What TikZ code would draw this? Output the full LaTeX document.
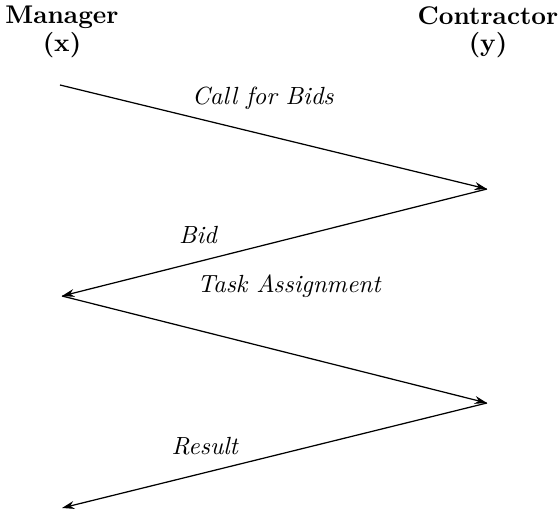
\documentclass[tikz,border=0pt]{standalone}
\usepackage{tikz}
\usetikzlibrary{arrows.meta,positioning}
\tikzset{>={Stealth[length=5pt,width=3.2pt]},shorten >=0pt}
\tikzset{party/.style={align=center,font=\bfseries\fontsize{10.3}{11}\selectfont,inner sep=0pt}}
\tikzset{msg/.style={font=\itshape}}

\begin{document}
\begin{tikzpicture}[x=0.403pt,y=-0.403pt,line width=0.5pt]
                \useasboundingbox (0,0) rectangle (559,510);
                \node[party] (mgr) at (62,32)  {Manager\\(x)};
                \node[party] (con) at (488,32) {Contractor\\(y)};
                \coordinate (m1) at (60,85);
                \coordinate (c1) at (487,189);
                \coordinate (m2) at (62,296);
                \coordinate (c2) at (487,403);
                \coordinate (m3) at (62,508);
                \path[->]
                    (m1)  edge  node[msg,pos=0.475,above=6.5pt] (cfb) {Call for Bids} (c1)
                    (c1)  edge  node[msg,pos=0.68,above=3.7pt] (bid) {Bid} (m2)
                    (m2)  edge  node[msg,pos=0.534,above=19pt] (task) {Task Assignment} (c2)
                    (c2)  edge  node[msg,pos=0.664,above=3.6pt] (res) {Result} (m3);
            \end{tikzpicture}
\end{document}
